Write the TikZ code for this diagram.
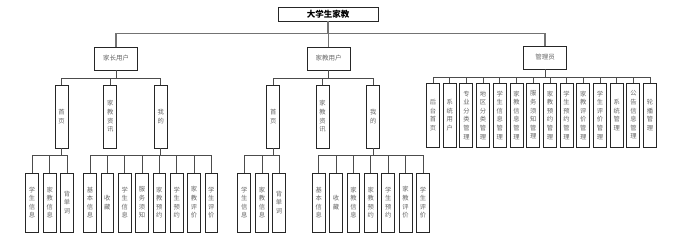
\documentclass[tikz,border=0pt]{standalone}
\usepackage{fontspec}
\setmainfont{Noto Sans CJK SC}
\begin{document}
\begin{tikzpicture}[x=1pt,y=-1pt,
  box/.style={draw=black!85, line width=0.9pt, fill=white, inner sep=0pt, text=black!60},
  topbox/.style={box, minimum width=100pt, minimum height=14pt, text=black, font=\fontsize{8.5}{10}\selectfont\bfseries},
  hbox/.style={box, minimum width=43pt, minimum height=23pt, font=\fontsize{6.5}{8}\selectfont},
  vbox/.style={box, minimum width=13pt, align=center, font=\fontsize{6.3}{8.6}\selectfont},
  lvone/.style={vbox, minimum height=63pt},
  lvtwo/.style={vbox, minimum width=12.7pt, minimum height=59pt},
  adm/.style={vbox, minimum height=64pt},
  link/.style={draw=black!70, line width=0.8pt},
  toplink/.style={draw=black!55, line width=1.4pt}]
\useasboundingbox (0,0) rectangle (697,242);

% root and users
\node[topbox] (root) at (328,14) {大学生家教};
\node[hbox] (pu) at (116,58.5) {家长用户};
\node[hbox] (tu) at (328.5,58.5) {家教用户};
\node[hbox] (au) at (545,57.5) {管理员};
\foreach \u in {pu,tu,au}
  \draw[toplink] (root.south) -- ++(0,12) -| (\u.north);

% parent user level 1
\node[lvone] (ph) at (61.5,116.5) {首\\页};
\node[lvone] (pz) at (110.2,116.5) {家\\教\\资\\讯};
\node[lvone] (pw) at (160.8,116.5) {我\\的};
\foreach \c in {ph,pz,pw}
  \draw[link] (pu.south) -- ++(0,7.5) -| (\c.north);

% teacher user level 1
\node[lvone] (th) at (273.3,116.5) {首\\页};
\node[lvone] (tz) at (322.5,116.5) {家\\教\\资\\讯};
\node[lvone] (tw) at (373.2,116.5) {我\\的};
\foreach \c in {th,tz,tw}
  \draw[link] (tu.south) -- ++(0,7.5) -| (\c.north);

% parent home children
\foreach \t/\x [count=\i] in {{学\\生\\信\\息}/32,{家\\教\\信\\息}/49.7,{背\\单\\词}/67}{
  \node[lvtwo] (phk\i) at (\x,202.5) {\t};
  \draw[link] (ph.south) -- ++(0,7) -| (phk\i.north);
}
% parent mine children
\foreach \t [count=\i] in {{基\\本\\信\\息},{收\\藏},{学\\生\\信\\息},{服\\务\\须\\知},{家\\教\\预\\约},{学\\生\\预\\约},{家\\教\\评\\价},{学\\生\\评\\价}}{
  \node[lvtwo] (pwk\i) at ({90+(\i-1)*17.33},202.5) {\t};
  \draw[link] (pw.south) -- ++(0,7) -| (pwk\i.north);
}
% teacher home children
\foreach \t/\x [count=\i] in {{学\\生\\信\\息}/244.2,{家\\教\\信\\息}/262,{背\\单\\词}/279}{
  \node[lvtwo] (thk\i) at (\x,202.5) {\t};
  \draw[link] (th.south) -- ++(0,7) -| (thk\i.north);
}
% teacher mine children
\foreach \t [count=\i] in {{基\\本\\信\\息},{收\\藏},{家\\教\\信\\息},{家\\教\\预\\约},{学\\生\\预\\约},{家\\教\\评\\价},{学\\生\\评\\价}}{
  \node[lvtwo] (twk\i) at ({318.7+(\i-1)*17.38},202.5) {\t};
  \draw[link] (tw.south) -- ++(0,7) -| (twk\i.north);
}
% admin children
\foreach \t [count=\i] in {{后\\台\\首\\页},{系\\统\\用\\户},{专\\业\\分\\类\\管\\理},{地\\区\\分\\类\\管\\理},{学\\生\\信\\息\\管\\理},{家\\教\\信\\息\\管\\理},{服\\务\\须\\知\\管\\理},{家\\教\\预\\约\\管\\理},{学\\生\\预\\约\\管\\理},{家\\教\\评\\价\\管\\理},{学\\生\\评\\价\\管\\理},{系\\统\\管\\理},{公\\告\\信\\息\\管\\理},{轮\\播\\管\\理}}{
  \node[adm] (ak\i) at ({433+(\i-1)*16.7},115) {\t};
  \draw[link] (au.south) -- ++(0,8) -| (ak\i.north);
}
\end{tikzpicture}
\end{document}
